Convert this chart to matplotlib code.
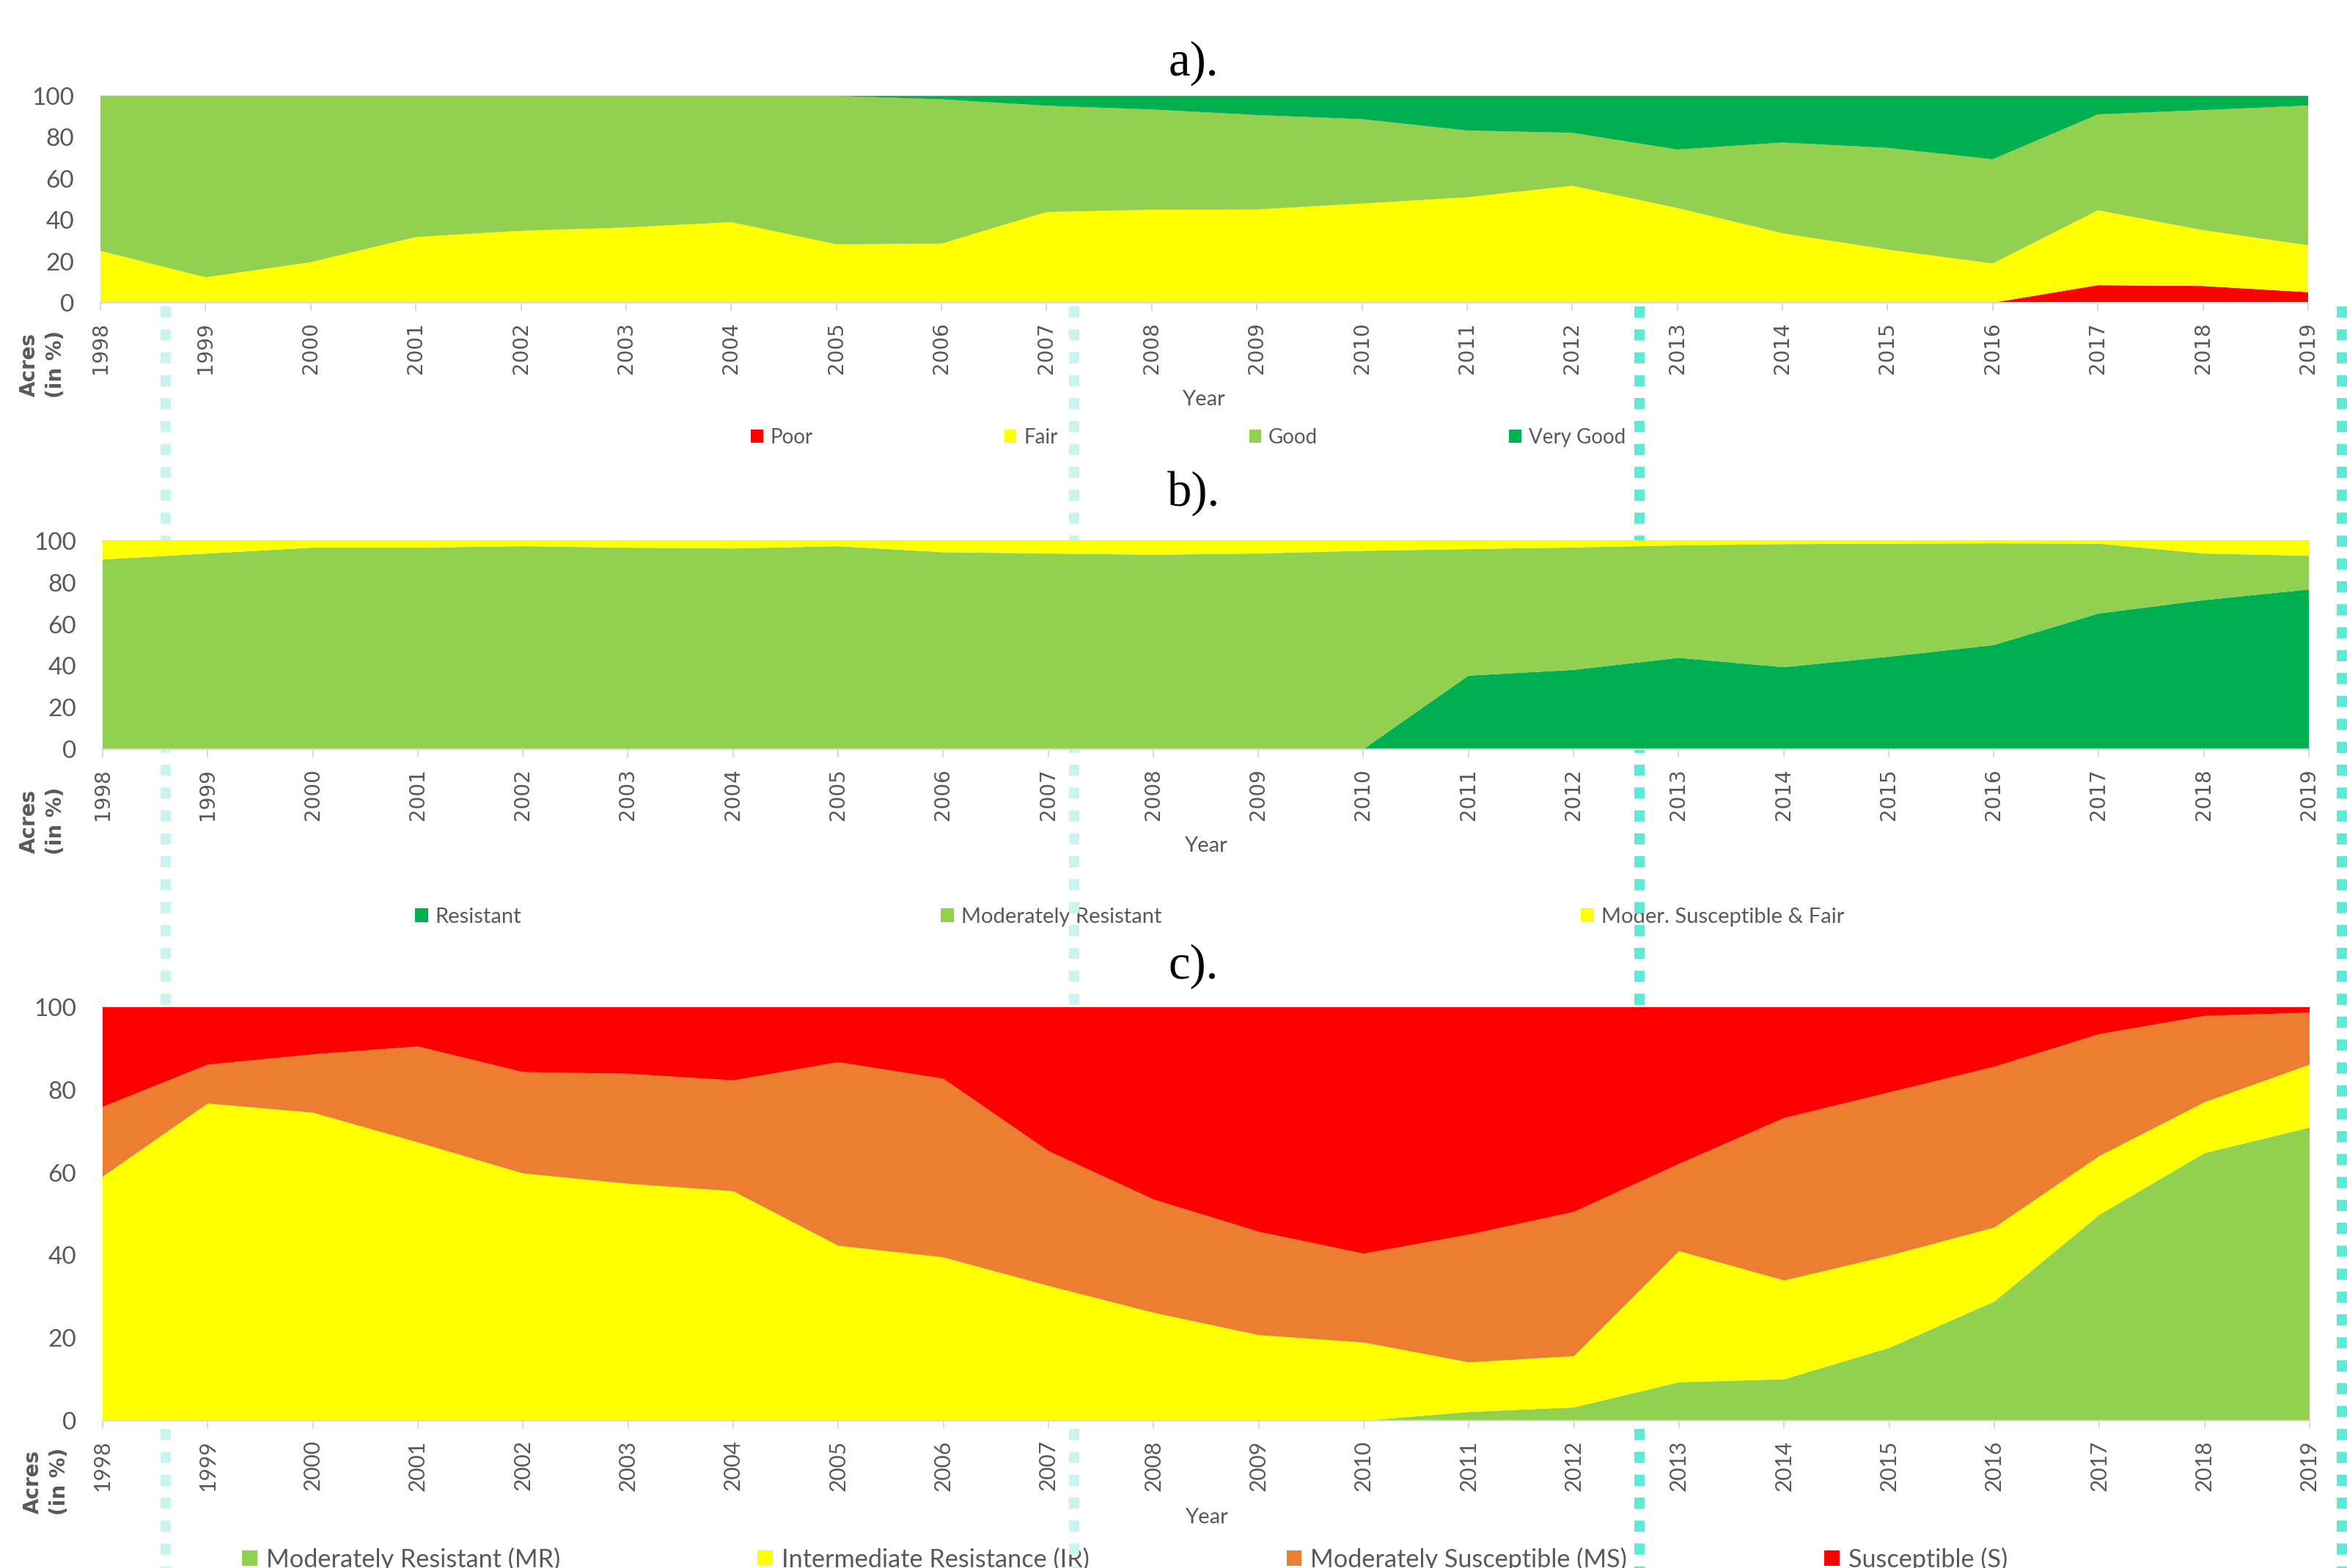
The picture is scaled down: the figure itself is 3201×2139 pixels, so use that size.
import matplotlib

matplotlib.use("Agg")
import matplotlib.pyplot as plt
from matplotlib.lines import Line2D

years = list(range(1998, 2020))

# a) crop condition, % of acres
poor = [0] * 19 + [8.5, 8.1, 5.1]
fair = [25.1, 12.3, 19.6, 31.8, 34.8, 36.4, 39.0, 28.3, 28.6, 43.9, 45.0,
        45.1, 48.0, 51.0, 56.6, 45.8, 33.6, 25.7, 19.0, 36.2, 27.0, 22.7]
good = [74.9, 87.7, 80.4, 68.2, 65.2, 63.6, 61.0, 71.7, 69.8, 51.4, 48.5,
        45.7, 40.8, 32.3, 25.6, 28.3, 43.9, 49.2, 50.4, 46.4, 58.1, 67.6]
very_good = [0] * 8 + [1.6, 4.7, 6.5, 9.2, 11.2, 16.7, 17.8, 25.9, 22.5,
                       25.1, 30.6, 8.9, 6.8, 4.6]

# b) resistance
resistant = [0] * 13 + [35.3, 38.1, 43.9, 39.4, 44.4, 50.0, 65.2, 71.6, 76.7]
mod_resistant = [91.1, 94.0, 96.8, 96.8, 97.5, 96.8, 96.4, 97.5, 94.6, 94.0, 93.4,
                 94.0, 95.3, 60.8, 58.8, 54.0, 59.1, 54.3, 48.9, 33.5, 22.4, 16.2]
mod_susc_fair = [8.9, 6.0, 3.2, 3.2, 2.5, 3.2, 3.6, 2.5, 5.4, 6.0, 6.6,
                 6.0, 4.7, 3.9, 3.1, 2.1, 1.5, 1.3, 1.1, 1.3, 6.0, 7.1]

# c) resistance classes
c_mr = [0] * 13 + [2.1, 3.2, 9.3, 10.0, 17.6, 28.8, 49.8, 64.7, 70.9]
c_ir = [59.0, 76.7, 74.5, 67.3, 59.8, 57.3, 55.5, 42.3, 39.5, 32.6, 26.1,
        20.7, 18.9, 12.0, 12.4, 31.7, 23.9, 22.3, 17.9, 14.2, 12.3, 15.2]
c_ms = [16.9, 9.4, 14.1, 23.2, 24.5, 26.6, 26.8, 44.4, 43.2, 32.6, 27.4,
        25.0, 21.5, 30.9, 34.9, 21.1, 39.3, 39.5, 38.9, 29.5, 20.9, 12.6]
c_s = [24.1, 13.9, 11.4, 9.5, 15.7, 16.1, 17.7, 13.3, 17.3, 34.8, 46.5,
       54.3, 59.6, 55.0, 49.5, 37.9, 26.8, 20.6, 14.4, 6.5, 2.1, 1.3]

RED = "#FF0000"
YELLOW = "#FFFF00"
LGREEN = "#92D050"
DGREEN = "#00B050"
ORANGE = "#ED7D31"
GRAY = "#595959"
LINE = "#D9D9D9"

W, H = 3201, 2139


def fx(px):
    return px / W


def fy(py):
    return 1 - py / H


def panel(fig, box, series, colors, labels, tick_font, tick_size):
    l, t, r, b = box
    ax = fig.add_axes([fx(l), fy(b), (r - l) / W, (b - t) / H])
    polys = ax.stackplot(years, *series, colors=colors, labels=labels,
                         linewidth=0, zorder=2)
    ax.axhline(100, color=LINE, lw=1.5, zorder=1, clip_on=False)
    ax.set_xlim(years[0], years[-1])
    ax.set_ylim(0, 100)
    ax.set_xticks(years)
    ax.set_xticklabels([str(y) for y in years], rotation=90,
                       family=tick_font, fontsize=tick_size, color=GRAY)
    ax.set_yticks(range(0, 101, 20))
    ax.set_yticklabels([str(v) for v in range(0, 101, 20)],
                       family="Lato", fontsize=24, color=GRAY)
    ax.tick_params(axis="y", length=0, pad=26)
    ax.tick_params(axis="x", length=8, width=1.4, color=LINE, pad=11)
    for s in ("left", "right", "top"):
        ax.spines[s].set_visible(False)
    ax.spines["bottom"].set_color(LINE)
    ax.spines["bottom"].set_linewidth(1.5)
    return ax, polys


fig = plt.figure(figsize=(W / 100, H / 100), dpi=100)

ax_a, pa = panel(fig, (137, 131, 3148, 413), [poor, fair, good, very_good],
                 [RED, YELLOW, LGREEN, DGREEN], ["Poor", "Fair", "Good", "Very Good"],
                 "DejaVu Sans", 20)
ax_b, pb = panel(fig, (140, 738, 3149, 1022), [resistant, mod_resistant, mod_susc_fair],
                 [DGREEN, LGREEN, YELLOW],
                 ["Resistant", "Moderately Resistant", "Moder. Susceptible & Fair"],
                 "DejaVu Sans", 20)
ax_c, pc = panel(fig, (140, 1374, 3150, 1938), [c_mr, c_ir, c_ms, c_s],
                 [LGREEN, YELLOW, ORANGE, RED],
                 ["Moderately Resistant (MR)", "Intermediate Resistance (IR)",
                  "Moderately Susceptible (MS)", "Susceptible (S)"],
                 "Lato", 21.5)

# panel titles
for txt, yc in (("a).", 86), ("b).", 673), ("c).", 1318)):
    fig.text(fx(1628), fy(yc), txt, ha="center", va="center",
             family="Liberation Serif", fontsize=48, color="black")

# axis titles
for xc, yc in ((1641, 545), (1644, 1154), (1645, 2070)):
    fig.text(fx(xc), fy(yc), "Year", ha="center", va="center",
             family="Lato", fontsize=21, color=GRAY)
for xc, yc in ((58, 497), (58, 1120), (63, 2021)):
    fig.text(fx(xc), fy(yc), "Acres\n(in %)", ha="center", va="center",
             rotation=90, family="DejaVu Sans", fontweight="bold",
             fontsize=20, color=GRAY, linespacing=1.4, multialignment="center")

# legends
legend_specs = [
    (pa, ["Poor", "Fair", "Good", "Very Good"], 1024, 597, 20, 9.4),
    (pb, ["Resistant", "Moderately Resistant", "Moder. Susceptible & Fair"],
     566, 1251, 21, 19.6),
    (pc, ["Moderately Resistant (MR)", "Intermediate Resistance (IR)",
          "Moderately Susceptible (MS)", "Susceptible (S)"], 330, 2127, 24.7, 7.85),
]
for handles, labels, x0, yc, size, cs in legend_specs:
    leg = fig.legend(handles, labels, loc="center left",
                     bbox_to_anchor=(fx(x0), fy(yc)), ncol=len(labels),
                     frameon=False, borderaxespad=0, borderpad=0,
                     handlelength=0.6, handleheight=0.6, handletextpad=0.35,
                     columnspacing=cs, prop={"family": "Lato", "size": size})
    for t in leg.get_texts():
        t.set_color(GRAY)
    leg.set_zorder(-2)

# dotted guide lines behind the plot areas
for xg, col in ((226, "#C9F4F0"), (1465, "#C9F4F0"), (2236, "#5EE8D6"), (3194, "#5EE8D6")):
    fig.add_artist(Line2D([fx(xg), fx(xg)], [fy(418), 0], transform=fig.transFigure,
                          color=col, lw=10, dashes=(1.1, 1.15),
                          dash_capstyle="butt", zorder=-1))

fig.savefig("out.png", dpi=100)
plt.close(fig)
